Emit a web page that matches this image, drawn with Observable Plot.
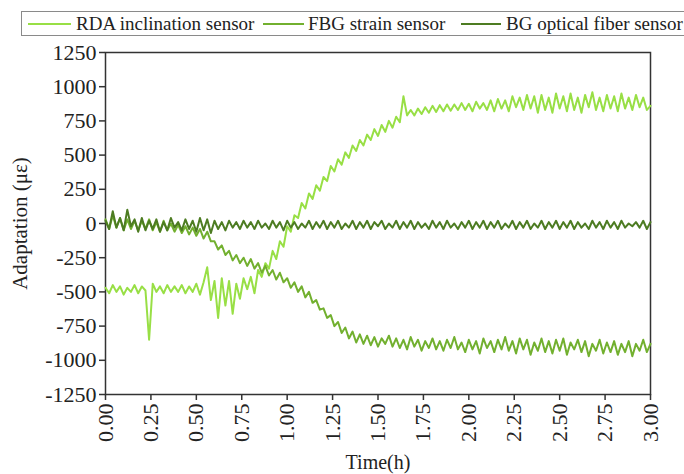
<!DOCTYPE html>
<html>
<head>
<meta charset="utf-8">
<script src="https://cdn.jsdelivr.net/npm/d3@7"></script>
<script src="https://cdn.jsdelivr.net/npm/@observablehq/plot@0.6"></script>
<style>
  html, body { margin: 0; padding: 0; background: #fff; overflow: hidden; }
  body { width: 684px; height: 474px; font-family: "Liberation Serif", "Times New Roman", serif; }
  #legend-wrap { height: 40px; position: relative; }
  #legend { position: absolute; left: 21px; top: 11px; width: 700px; height: 25px; border: 1px solid #8a8a8a; box-sizing: border-box;
            font-size: 19px; color: #222; white-space: nowrap; }
  .sw { position: absolute; top: 11px; height: 2px; }
  .tx { position: absolute; top: 0px; line-height: 23px; }
  #chart svg { display: block; }
</style>
</head>
<body>
<div id="legend-wrap"><div id="legend"></div></div>
<div id="chart"></div>
<script>
const seriesNames = ["RDA inclination sensor", "FBG strain sensor", "BG optical fiber sensor"];
const seriesColors = ["#98df45", "#72b02f", "#4d7c22"];
const timeStep = 0.02; // h, sample spacing
const xTicks = [0, 0.25, 0.5, 0.75, 1, 1.25, 1.5, 1.75, 2, 2.25, 2.5, 2.75, 3];
const yTicks = [-1250, -1000, -750, -500, -250, 0, 250, 500, 750, 1000, 1250];

const rda = [
  -470, -510, -450, -500, -460, -520, -470, -500, -450, -510,
  -460, -490, -850, -440, -500, -460, -510, -450, -500, -460,
  -500, -450, -510, -460, -500, -440, -520, -430, -320, -560,
  -420, -690, -400, -600, -420, -660, -440, -550, -400, -480,
  -390, -510, -340, -390, -290, -330, -200, -260, -130, -170,
  -20, -60, 60, 40, 150, 110, 220, 180, 280, 240,
  340, 310, 420, 380, 470, 430, 520, 480, 570, 530,
  610, 570, 650, 610, 690, 640, 720, 670, 750, 700,
  780, 740, 930, 790, 830, 790, 840, 800, 850, 810,
  860, 815, 865, 820, 870, 825, 870, 830, 880, 830,
  875, 820, 890, 840, 880, 830, 900, 820, 910, 840,
  900, 820, 930, 850, 920, 830, 940, 840, 930, 810,
  940, 830, 920, 810, 950, 840, 930, 820, 950, 830,
  920, 810, 940, 850, 960, 830, 920, 820, 940, 840,
  930, 820, 950, 840, 920, 830, 940, 850, 920, 830, 860
];
const fbg = [
  30, -40, 60, -30, 40, -50, 30, -40, 20, -50,
  20, -40, 30, -50, 10, -60, 20, -50, 0, -60,
  -10, -70, -20, -80, -30, -90, -40, -110, -60, -130,
  -130, -190, -160, -230, -200, -270, -230, -290, -250, -310,
  -260, -330, -290, -360, -310, -380, -340, -410, -360, -430,
  -400, -470, -430, -500, -460, -540, -500, -580, -560, -630,
  -620, -690, -670, -750, -720, -800, -760, -840, -790, -870,
  -810, -880, -820, -890, -830, -900, -840, -880, -820, -900,
  -840, -910, -850, -920, -830, -900, -850, -930, -860, -910,
  -840, -920, -860, -930, -850, -910, -830, -920, -870, -940,
  -850, -920, -860, -950, -840, -910, -860, -940, -850, -920,
  -830, -930, -860, -950, -840, -920, -850, -960, -870, -930,
  -840, -940, -860, -950, -850, -930, -840, -960, -870, -920,
  -850, -940, -860, -970, -880, -930, -850, -950, -870, -940,
  -860, -960, -880, -940, -860, -970, -880, -930, -850, -940, -880
];
const bg = [
  20, -40, 90, -30, 40, -50, 100, -20, 30, -60,
  40, -50, 20, -40, 30, -60, 10, -50, 40, -30,
  10, -50, 30, -40, 20, -60, 40, -50, 30, -70,
  20, -40, 10, -50, 20, -30, 10, -40, 20, -30,
  10, -40, 20, -30, 0, -40, 20, -30, 10, -50,
  20, -30, 10, -40, 0, -30, 20, -40, 10, -30,
  20, -40, 10, -30, 20, -40, 0, -30, 20, -40,
  10, -30, 20, -40, 10, -20, 20, -40, 0, -30,
  20, -40, 10, -30, 20, -40, 10, -30, 0, -40,
  20, -30, 10, -40, 20, -30, 0, -40, 10, -30,
  20, -40, 10, -30, 20, -40, 10, -30, 20, -40,
  0, -30, 20, -40, 10, -30, 20, -40, 0, -30,
  20, -40, 10, -30, 20, -40, 10, -30, 20, -40,
  10, -30, 0, -40, 20, -30, 10, -40, 20, -30,
  10, -40, 20, -30, 0, -20, 10, -30, 20, -40, 10
];

const allSeries = [rda, fbg, bg];
const rows = [];
allSeries.forEach((vals, s) => {
  vals.forEach((v, i) => rows.push({ t: +(i * timeStep).toFixed(2), v, series: seriesNames[s] }));
});

// legend (page-x positions of sample start/end and text start, relative to legend box)
const legendLayout = [[6, 49, 54], [241, 282, 286], [439, 479, 484]];
const legend = document.getElementById("legend");
seriesNames.forEach((name, i) => {
  const [a, b, c] = legendLayout[i];
  const sw = document.createElement("span");
  sw.className = "sw";
  sw.style.left = a + "px";
  sw.style.width = (b - a) + "px";
  sw.style.background = seriesColors[i];
  const tx = document.createElement("span");
  tx.className = "tx";
  tx.style.left = c + "px";
  tx.textContent = name;
  legend.appendChild(sw); legend.appendChild(tx);
});

const chart = Plot.plot({
  width: 684,
  height: 434,
  marginTop: 12,
  marginLeft: 105,
  marginRight: 34,
  marginBottom: 80,
  style: { fontFamily: "'Liberation Serif', 'Times New Roman', serif", fontSize: "22px", color: "#222", background: "#fff" },
  x: { domain: [0, 3] },
  y: { domain: [-1250, 1250] },
  color: { domain: seriesNames, range: seriesColors },
  marks: [
    Plot.frame({ stroke: "#333", strokeWidth: 1.5 }),
    Plot.axisY({ ticks: yTicks, tickFormat: d => String(d), tickSize: 6, tickPadding: 3, stroke: "#333", strokeWidth: 1.5, fontSize: 22,
                 label: null }),
    Plot.axisY({ ticks: [], label: "Adaptation (με)", labelAnchor: "center", labelArrow: "none", labelOffset: 93, fontSize: 21 }),
    Plot.axisX({ ticks: xTicks, tickFormat: d => d.toFixed(2), tickRotate: -90, tickSize: 6, tickPadding: 3, stroke: "#333", strokeWidth: 1.5, fontSize: 22,
                 label: null }),
    Plot.axisX({ ticks: [], label: "Time(h)", labelAnchor: "center", labelArrow: "none", labelOffset: 74, fontSize: 20 }),
    Plot.lineY(rows, { x: "t", y: "v", z: "series", stroke: "series", strokeWidth: 2 })
  ]
});
document.getElementById("chart").appendChild(chart);
</script>
</body>
</html>
